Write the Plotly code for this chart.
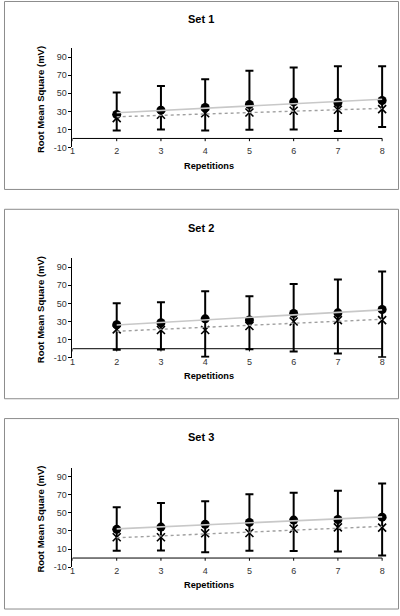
import numpy as np
import plotly.graph_objects as go

# ---------------- data ----------------
repetitions = [2, 3, 4, 5, 6, 7, 8]
x_ticks = [1, 2, 3, 4, 5, 6, 7, 8]
y_ticks = [-10, 10, 30, 50, 70, 90]
y_tick_labels = ["-10", "10", "30", "50", "70", "90"]
set_titles = ["Set 1", "Set 2", "Set 3"]

set1_circle = [26.5, 31.4, 34.3, 37.6, 40.5, 39.8, 42.0]
set1_cross = [22.6, 26.3, 28.0, 28.8, 30.7, 31.8, 32.5]
set1_upper = [51.0, 58.0, 65.5, 75.0, 78.6, 80.0, 80.0]
set1_lower = [8.7, 10.0, 8.7, 9.8, 10.0, 8.3, 12.7]

set2_circle = [26.5, 28.7, 33.0, 31.8, 38.9, 39.6, 43.3]
set2_cross = [21.4, 20.7, 20.7, 25.0, 30.0, 31.6, 31.6]
set2_upper = [50.2, 51.3, 63.4, 57.9, 71.4, 76.5, 85.3]
set2_lower = [-1.2, -1.0, -9.0, -0.6, -3.0, -5.3, -9.3]

set3_circle = [31.8, 34.3, 37.3, 39.5, 42.0, 42.7, 45.3]
set3_cross = [23.0, 23.0, 27.4, 27.8, 32.5, 34.0, 33.7]
set3_upper = [56.3, 61.0, 62.9, 70.6, 72.4, 74.6, 82.7]
set3_lower = [8.0, 8.3, 6.5, 8.0, 7.7, 7.2, 2.8]

sets = [
    (set1_circle, set1_cross, set1_upper, set1_lower),
    (set2_circle, set2_cross, set2_upper, set2_lower),
    (set3_circle, set3_cross, set3_upper, set3_lower),
]

# ---------------- layout geometry (pixels) ----------------
W, H = 400, 616
FONT = "Arial, Liberation Sans, sans-serif"
X_MIN, X_MAX = 1, 8.2          # axis range (a little room right of 8 for the caps)
px_per_unit = (382 - 70) / 7.0
plot_x0 = 70
plot_x1 = 70 + px_per_unit * (X_MAX - X_MIN)
plot_tops = [48.6, 260.2, 471.6]
plot_bottoms = [148.7, 360.7, 571.7]
panel_boxes = [(1.5, 398.5, 1.5, 191), (1.5, 398.5, 211, 402), (1.5, 398.5, 422, 614)]
title_y = [19, 230, 441]
xtitle_y = [167, 379, 590]


def px_x(p):
    return p / W


def px_y(p):
    return 1 - p / H


fig = go.Figure()
layout = dict(
    width=W, height=H, autosize=False,
    margin=dict(l=0, r=0, t=0, b=0),
    paper_bgcolor="white", plot_bgcolor="white",
    showlegend=False,
    font=dict(family=FONT, size=9, color="#222"),
)
shapes = []
annotations = []

for i, (circ, cross, up, lo) in enumerate(sets):
    n = "" if i == 0 else str(i + 1)
    xa, ya = "x" + n, "y" + n
    circ_a = np.array(circ)
    cross_a = np.array(cross)
    up_a = np.array(up)
    lo_a = np.array(lo)

    # zero line (x axis crossing) from first to last category tick
    shapes.append(dict(type="line", xref=xa, yref=ya, x0=x_ticks[0], x1=x_ticks[-1],
                       y0=0, y1=0, line=dict(color="black", width=1), layer="below"))
    # x tick marks hanging from the zero line
    for t in x_ticks:
        shapes.append(dict(type="line", xref=xa, yref=ya, x0=t, x1=t, y0=0, y1=-3,
                           line=dict(color="black", width=1), layer="below"))

    fig.add_trace(go.Scatter(
        x=repetitions, y=circ, mode="markers", xaxis=xa, yaxis=ya, cliponaxis=False,
        marker=dict(symbol="circle", size=9, color="black"),
        error_y=dict(type="data", symmetric=False,
                     array=(up_a - circ_a).tolist(),
                     arrayminus=(circ_a - lo_a).tolist(),
                     color="black", thickness=2, width=4),
    ))
    fig.add_trace(go.Scatter(
        x=repetitions, y=cross, mode="markers", xaxis=xa, yaxis=ya, cliponaxis=False,
        marker=dict(symbol="x-thin", size=8, color="black",
                    line=dict(color="black", width=1.6)),
    ))
    # linear trend lines
    rx = np.array(repetitions, dtype=float)
    c_fit = np.polyfit(rx, circ_a, 1)
    x_fit = np.polyfit(rx, cross_a, 1)
    ends = np.array([rx.min(), rx.max()])
    fig.add_trace(go.Scatter(
        x=ends, y=np.polyval(c_fit, ends), mode="lines", xaxis=xa, yaxis=ya, cliponaxis=False,
        line=dict(color="#c8c8c8", width=1.6),
    ))
    fig.add_trace(go.Scatter(
        x=ends, y=np.polyval(x_fit, ends), mode="lines", xaxis=xa, yaxis=ya, cliponaxis=False,
        line=dict(color="#a0a0a0", width=1.4, dash="3px,3px"),
    ))

    layout["xaxis" + n] = dict(
        domain=[px_x(plot_x0), px_x(plot_x1)], anchor=ya,
        range=[X_MIN, X_MAX], tickvals=x_ticks, showline=False, showgrid=False,
        zeroline=False, ticks="", ticklabelstandoff=-3,
        tickfont=dict(family=FONT, size=9, color="#333"),
    )
    layout["yaxis" + n] = dict(
        domain=[px_y(plot_bottoms[i]), px_y(plot_tops[i])], anchor=xa,
        range=[-10, 100], tickvals=y_ticks, ticktext=y_tick_labels,
        showline=True, linecolor="black",
        linewidth=1, ticks="outside", ticklen=3, tickcolor="black",
        showgrid=False, zeroline=False,
        tickfont=dict(family=FONT, size=9, color="#333"),
    )

    bx0, bx1, by0, by1 = panel_boxes[i]
    shapes.append(dict(type="rect", xref="paper", yref="paper",
                       x0=px_x(bx0), x1=px_x(bx1), y0=px_y(by1), y1=px_y(by0),
                       line=dict(color="#8c8c8c", width=1), fillcolor="rgba(0,0,0,0)"))

    annotations.append(dict(text="<b>" + set_titles[i] + "</b>", xref="paper", yref="paper",
                            x=px_x(199.5), y=px_y(title_y[i]), showarrow=False,
                            xanchor="center", yanchor="middle",
                            font=dict(family=FONT, size=11, color="black")))
    annotations.append(dict(text="<b>Root Mean Square (mV)</b>", xref="paper", yref="paper",
                            x=px_x(38), y=px_y((plot_tops[i] + plot_bottoms[i]) / 2 + 1.5),
                            textangle=-90, showarrow=False,
                            xanchor="center", yanchor="middle",
                            font=dict(family=FONT, size=9.5, color="black")))
    annotations.append(dict(text="<b>Repetitions</b>", xref="paper", yref="paper",
                            x=px_x(208), y=px_y(xtitle_y[i]), showarrow=False,
                            xanchor="center", yanchor="middle",
                            font=dict(family=FONT, size=9.2, color="black")))

layout["shapes"] = shapes
layout["annotations"] = annotations
fig.update_layout(**layout)
fig.write_html(
    "out.html",
    config={"displayModeBar": False},
    post_script="document.body.style.margin='0';document.body.style.overflow='hidden';",
)
